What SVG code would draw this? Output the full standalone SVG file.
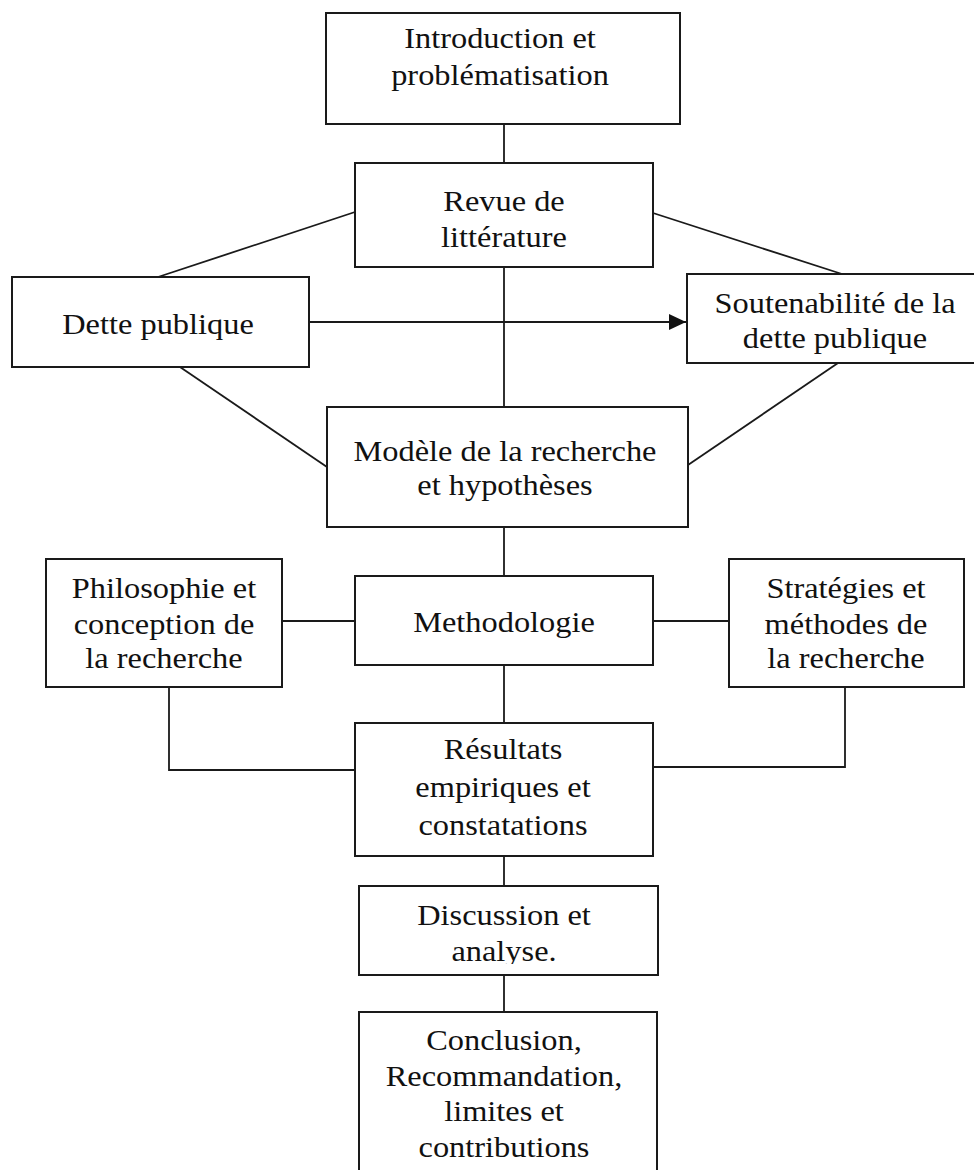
<svg xmlns="http://www.w3.org/2000/svg" width="974" height="1170" viewBox="0 0 974 1170">
<style>
.box{fill:#fff;stroke:#1a1a1a;stroke-width:2}
.ln{fill:none;stroke:#1a1a1a;stroke-width:1.8}
.t{font-family:"Liberation Serif","Times New Roman",serif;font-size:29px;fill:#111;text-anchor:middle}
</style>
<defs>
<marker id="arr" markerUnits="userSpaceOnUse" markerWidth="18" markerHeight="16" refX="17" refY="8" orient="auto">
<path d="M0,0 L17,8 L0,16 Z" fill="#111"/>
</marker>
<clipPath id="clipDisc"><rect x="359" y="886" width="299" height="78"/></clipPath>
</defs>
<rect width="974" height="1170" fill="#fff"/>
<g id="connectors">
<line class="ln" x1="504" y1="124" x2="504" y2="163"/>
<line class="ln" x1="504" y1="267" x2="504" y2="407"/>
<line class="ln" x1="355" y1="212" x2="158" y2="277"/>
<line class="ln" x1="653" y1="213" x2="842" y2="274"/>
<line class="ln" x1="309" y1="322" x2="686" y2="322" marker-end="url(#arr)"/>
<line class="ln" x1="180" y1="367" x2="327" y2="467"/>
<line class="ln" x1="838" y1="363" x2="688" y2="465"/>
<line class="ln" x1="504" y1="527" x2="504" y2="576"/>
<line class="ln" x1="282" y1="621" x2="355" y2="621"/>
<line class="ln" x1="653" y1="621" x2="729" y2="621"/>
<line class="ln" x1="504" y1="665" x2="504" y2="723"/>
<polyline class="ln" points="169,687 169,770 355,770"/>
<polyline class="ln" points="845,687 845,767 653,767"/>
<line class="ln" x1="504" y1="856" x2="504" y2="886"/>
<line class="ln" x1="504" y1="975" x2="504" y2="1012"/>
</g>
<g id="intro">
<rect class="box" x="326" y="13" width="354" height="111"/>
<text class="t" transform="translate(500,48) scale(1.117,1)">Introduction et</text>
<text class="t" transform="translate(500,85) scale(1.117,1)">problématisation</text>
</g>
<g id="revue">
<rect class="box" x="355" y="163" width="298" height="104"/>
<text class="t" transform="translate(504,211) scale(1.117,1)">Revue de</text>
<text class="t" transform="translate(504,247) scale(1.117,1)">littérature</text>
</g>
<g id="dette">
<rect class="box" x="12" y="277" width="297" height="90"/>
<text class="t" transform="translate(158,334) scale(1.117,1)">Dette publique</text>
</g>
<g id="soutenabilite">
<rect class="box" x="687" y="274" width="300" height="89"/>
<text class="t" transform="translate(835,313) scale(1.117,1)">Soutenabilité de la</text>
<text class="t" transform="translate(835,348) scale(1.117,1)">dette publique</text>
</g>
<g id="modele">
<rect class="box" x="327" y="407" width="361" height="120"/>
<text class="t" transform="translate(505,461) scale(1.117,1)">Modèle de la recherche</text>
<text class="t" transform="translate(505,495) scale(1.117,1)">et hypothèses</text>
</g>
<g id="philosophie">
<rect class="box" x="46" y="559" width="236" height="128"/>
<text class="t" transform="translate(164,598) scale(1.117,1)">Philosophie et</text>
<text class="t" transform="translate(164,634) scale(1.117,1)">conception de</text>
<text class="t" transform="translate(164,668) scale(1.117,1)">la recherche</text>
</g>
<g id="methodologie">
<rect class="box" x="355" y="576" width="298" height="89"/>
<text class="t" transform="translate(504,632) scale(1.117,1)">Methodologie</text>
</g>
<g id="strategies">
<rect class="box" x="729" y="559" width="235" height="128"/>
<text class="t" transform="translate(846,598) scale(1.117,1)">Stratégies et</text>
<text class="t" transform="translate(846,634) scale(1.117,1)">méthodes de</text>
<text class="t" transform="translate(846,668) scale(1.117,1)">la recherche</text>
</g>
<g id="resultats">
<rect class="box" x="355" y="723" width="298" height="133"/>
<text class="t" transform="translate(503,759) scale(1.117,1)">Résultats</text>
<text class="t" transform="translate(503,797) scale(1.117,1)">empiriques et</text>
<text class="t" transform="translate(503,835) scale(1.117,1)">constatations</text>
</g>
<g id="discussion">
<rect class="box" x="359" y="886" width="299" height="89"/>
<g clip-path="url(#clipDisc)">
<text class="t" transform="translate(504,925) scale(1.117,1)">Discussion et</text>
<text class="t" transform="translate(504,961) scale(1.117,1)">analyse.</text>
</g>
</g>
<g id="conclusion">
<rect class="box" x="359" y="1012" width="298" height="170"/>
<text class="t" transform="translate(504,1050) scale(1.117,1)">Conclusion,</text>
<text class="t" transform="translate(504,1086) scale(1.117,1)">Recommandation,</text>
<text class="t" transform="translate(504,1121) scale(1.117,1)">limites et</text>
<text class="t" transform="translate(504,1157) scale(1.117,1)">contributions</text>
</g>
</svg>
